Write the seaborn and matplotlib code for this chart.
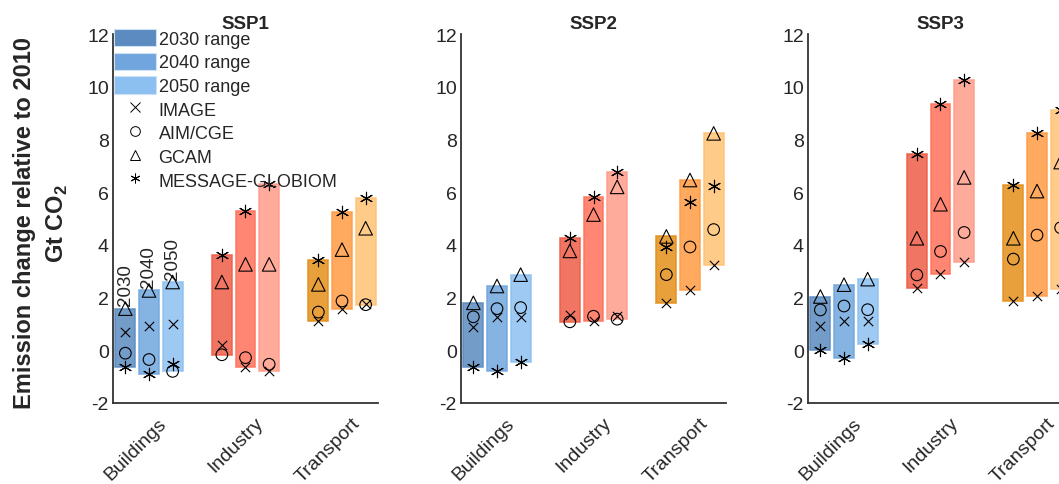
import numpy as np
import pandas as pd
import matplotlib
matplotlib.use("Agg")
import matplotlib.pyplot as plt
import matplotlib.transforms as mtrans
import seaborn as sns
from matplotlib.patches import Patch
from matplotlib.lines import Line2D

# data: emission change (Gt CO2) per model, order B2030,B2040,B2050,I2030,...,T2050
sectors = ["Buildings", "Industry", "Transport"]
years = ["2030", "2040", "2050"]
scenarios = ["SSP1", "SSP2", "SSP3"]
models = ["IMAGE", "AIM/CGE", "GCAM", "MESSAGE-GLOBIOM"]

ssp1_image = [0.69, 0.91, 0.98, 0.19, -0.62, -0.78, 1.11, 1.58, 1.77]
ssp1_aim = [-0.11, -0.35, -0.80, -0.17, -0.28, -0.53, 1.45, 1.87, 1.73]
ssp1_gcam = [1.58, 2.27, 2.59, 2.59, 3.26, 3.26, 2.50, 3.82, 4.63]
ssp1_message = [-0.64, -0.89, -0.51, 3.60, 5.30, 6.31, 3.43, 5.24, 5.77]

ssp2_image = [0.89, 1.27, 1.27, 1.33, 1.10, 1.29, 1.81, 2.27, 3.23]
ssp2_aim = [1.27, 1.58, 1.62, 1.08, 1.29, 1.18, 2.87, 3.92, 4.58]
ssp2_gcam = [1.80, 2.44, 2.87, 3.77, 5.15, 6.20, 4.32, 6.46, 8.23]
ssp2_message = [-0.63, -0.78, -0.46, 4.27, 5.81, 6.75, 3.92, 5.61, 6.24]

ssp3_image = [0.92, 1.11, 1.10, 2.37, 2.89, 3.36, 1.87, 2.05, 2.34]
ssp3_aim = [1.53, 1.68, 1.54, 2.86, 3.75, 4.47, 3.46, 4.37, 4.65]
ssp3_gcam = [2.04, 2.49, 2.70, 4.25, 5.54, 6.56, 4.25, 6.04, 7.14]
ssp3_message = [0.01, -0.28, 0.23, 7.43, 9.34, 10.25, 6.27, 8.23, 9.12]

# long table
rows = []
for ssp, vals in zip(scenarios, [
        [ssp1_image, ssp1_aim, ssp1_gcam, ssp1_message],
        [ssp2_image, ssp2_aim, ssp2_gcam, ssp2_message],
        [ssp3_image, ssp3_aim, ssp3_gcam, ssp3_message]]):
    for model, v in zip(models, vals):
        for k, val in enumerate(v):
            rows.append({"ssp": ssp, "model": model, "sector": sectors[k // 3],
                         "year": years[k % 3], "value": val})
df = pd.DataFrame(rows)

# styling
sns.set_style("white")
plt.rcParams["font.family"] = ["Liberation Sans", "DejaVu Sans"]
plt.rcParams["mathtext.fontset"] = "custom"
plt.rcParams["mathtext.rm"] = "Liberation Sans"
plt.rcParams["mathtext.bf"] = "Liberation Sans:bold"
plt.rcParams["axes.unicode_minus"] = False

colors = {
    "Buildings": ["#5b8bc0", "#70a6dd", "#8cc0f0"],
    "Industry": ["#ee5d48", "#ff7159", "#ff9c8a"],
    "Transport": ["#e48f1a", "#ff9b43", "#ffc273"],
}
markers = {"IMAGE": "x", "AIM/CGE": "o", "GCAM": "^", "MESSAGE-GLOBIOM": (6, 2, 0)}
msize = {"IMAGE": 45, "AIM/CGE": 70, "GCAM": 95, "MESSAGE-GLOBIOM": 80}
offsets = [-0.245, 0.0, 0.245]
bar_w = 0.205
alpha = 0.85

fig = plt.figure(figsize=(10.59, 4.85), dpi=100)
lefts = [113, 461, 808]
axes = []
for i, ssp in enumerate(scenarios):
    ax = fig.add_axes([lefts[i] / 1059, 81 / 485, 265 / 1059, 369 / 485])
    axes.append(ax)
    sub = df[df.ssp == ssp].copy()
    sub["xpos"] = sub.sector.map({s: j for j, s in enumerate(sectors)}) + \
        sub.year.map({y: offsets[j] for j, y in enumerate(years)})

    # range bars
    rng = sub.groupby(["sector", "year"]).value.agg(["min", "max"]).reset_index()
    for _, r in rng.iterrows():
        j = sectors.index(r["sector"])
        k = years.index(r["year"])
        c = colors[r["sector"]][k]
        ax.bar(j + offsets[k], r["max"] - r["min"], bottom=r["min"], width=bar_w,
               color=c, alpha=alpha, edgecolor=c, linewidth=1.2, zorder=1)
        if ssp == "SSP1" and r["sector"] == "Buildings":
            ax.text(j + offsets[k], r["max"] + 0.12, r["year"], rotation=90,
                    ha="center", va="bottom", fontsize=13.5, zorder=3)

    # model markers
    for m in models:
        d = sub[sub.model == m]
        filled = m in ("AIM/CGE", "GCAM")
        sns.scatterplot(data=d, x="xpos", y="value", ax=ax, marker=markers[m],
                        s=msize[m], color="k",
                        facecolor="none" if filled else "k", edgecolor="k",
                        linewidth=0.8, legend=False, zorder=4)

    ax.set_xlim(-0.373, 2.373)
    ax.set_ylim(-2, 12)
    ax.set_yticks(range(-2, 13, 2))
    ax.set_xticks(range(3))
    ax.tick_params(axis="y", labelsize=14, direction="in", length=4, color="#333333", pad=3)
    ax.tick_params(axis="x", direction="in", length=4, color="#333333", pad=8)
    ax.set_xticklabels(sectors, rotation=45, ha="right", rotation_mode="anchor",
                       fontsize=14)
    shift = mtrans.ScaledTranslation(9 / 100, 0, fig.dpi_scale_trans)
    for lab in ax.get_xticklabels():
        lab.set_transform(lab.get_transform() + shift)
    ax.set_xlabel("")
    ax.set_ylabel("")
    ax.set_title(ssp, fontsize=13.5, fontweight="bold", pad=4)
    sns.despine(ax=ax)
    for sp in ["left", "bottom"]:
        ax.spines[sp].set_color("#333333")
        ax.spines[sp].set_linewidth(1.3)

# legend in the first panel
handles = [Patch(facecolor=colors["Buildings"][k], edgecolor="#cfe2f5", linewidth=0.8,
                 label=f"{y} range") for k, y in enumerate(years)]
for m in models:
    handles.append(Line2D([], [], linestyle="none", marker=markers[m], color="k",
                          markerfacecolor="none", markersize=7, markeredgewidth=0.7,
                          label=m))
axes[0].legend(handles=handles, loc="upper left", bbox_to_anchor=(0.005, 1.014),
               frameon=False, fontsize=13, handlelength=2.3, handleheight=1.1,
               labelspacing=0.27, handletextpad=0.15, borderpad=0, borderaxespad=0)

fig.text(25 / 1059, 0.54, "Emission change relative to 2010", rotation=90,
         ha="center", va="center", fontsize=17, fontweight="bold")
fig.text(57 / 1059, 0.54, r"Gt CO$_{\mathbf{2}}$", rotation=90,
         ha="center", va="center", fontsize=17, fontweight="bold")

fig.savefig("out.png", dpi=100)
